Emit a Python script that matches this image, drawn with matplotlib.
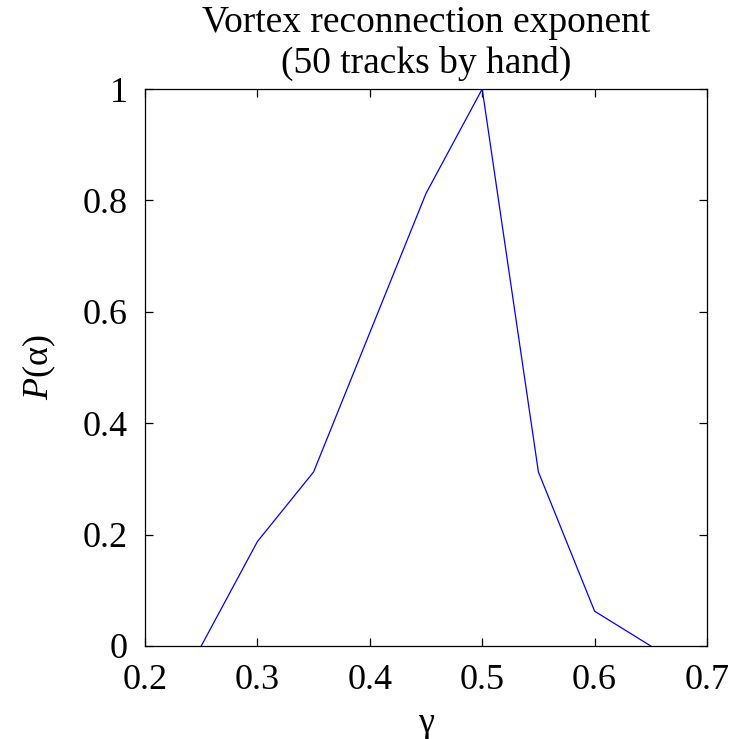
import numpy as np
import matplotlib
matplotlib.use("Agg")
import matplotlib.pyplot as plt

# =========================================
# DATA
# =========================================
gamma = [0.25, 0.30, 0.35, 0.40, 0.45, 0.50, 0.55, 0.60, 0.65]
prob = [0.0, 0.1875, 0.3125, 0.5625, 0.8125, 1.0, 0.3125, 0.0625, 0.0]

x_ticks = [0.2, 0.3, 0.4, 0.5, 0.6, 0.7]
x_tick_labels = ["0.2", "0.3", "0.4", "0.5", "0.6", "0.7"]
y_ticks = [0, 0.2, 0.4, 0.6, 0.8, 1.0]
y_tick_labels = ["0", "0.2", "0.4", "0.6", "0.8", "1"]

# =========================================
# STYLE (MATLAB-ish look)
# =========================================
plt.rcParams["font.family"] = ["Liberation Serif", "DejaVu Serif"]
plt.rcParams["mathtext.fontset"] = "custom"
plt.rcParams["mathtext.rm"] = "Liberation Serif"
plt.rcParams["mathtext.it"] = "Liberation Serif:italic"
plt.rcParams["axes.linewidth"] = 0.9

fig = plt.figure(figsize=(7.39, 7.39), dpi=100)
ax = fig.add_axes([145 / 739, 1 - 646 / 739, (707 - 145) / 739, (646 - 89) / 739])

ax.plot(gamma, prob, color="#0000ff", linewidth=0.9)

ax.set_xlim(0.2, 0.7)
ax.set_ylim(0, 1)
ax.set_xticks(x_ticks)
ax.set_xticklabels(x_tick_labels)
ax.set_yticks(y_ticks)
ax.set_yticklabels(y_tick_labels)

ax.tick_params(direction="in", top=True, right=True, length=5.5, width=0.9,
               labelsize=26)
ax.tick_params(axis="x", pad=13)
ax.tick_params(axis="y", pad=12.5)

# title is baseline-aligned: pad puts the 2nd line baseline ~16 px above the box
ax.set_title("Vortex reconnection exponent\n(50 tracks by hand)",
             fontsize=27, linespacing=1.22, pad=11.5)
ax.set_xlabel("γ", fontsize=26)
ax.set_ylabel("$P$(α)", fontsize=26)
ax.xaxis.set_label_coords(0.5, -0.109)
ax.yaxis.set_label_coords(-0.155, 0.5)

fig.savefig("out.png", dpi=100)
